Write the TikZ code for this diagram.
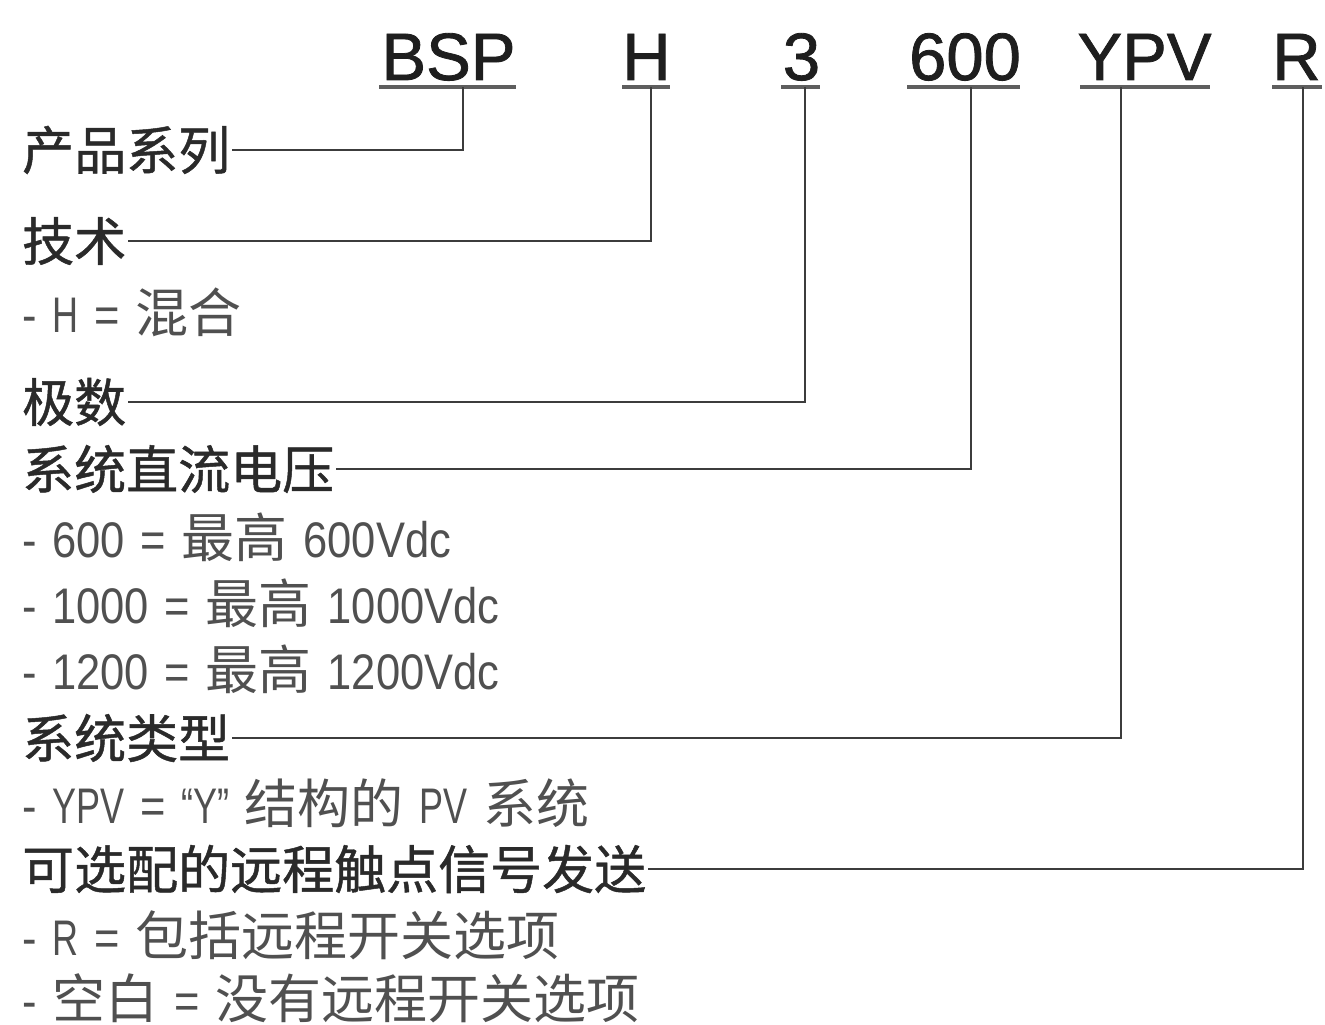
\documentclass[tikz,border=0pt]{standalone}
\usepackage{fontspec}
\setmainfont[FakeStretch=0.87,WordSpace=1.3]{Liberation Sans}
\newfontfamily\cj{Noto Sans CJK SC}
\newfontfamily\cjh[FakeBold=0.9]{Noto Sans CJK SC}
\newfontfamily\capn[FakeStretch=0.72,WordSpace=1.3]{Liberation Sans}
\newfontfamily\codefont[FakeBold=1.2]{Liberation Sans}
\newcommand\zh[1]{{\cj\fontsize{53}{60}\selectfont #1}}
\newcommand\cp[1]{{\capn #1}}
\definecolor{headc}{HTML}{2A2A2A}
\definecolor{codec}{HTML}{1E1E1E}
\definecolor{subc}{HTML}{505050}
\definecolor{linec}{HTML}{3C3C3C}
\definecolor{ulc}{HTML}{5E5E5E}
\tikzset{
  code/.style={inner sep=0pt, anchor=base, text=codec, font=\codefont\fontsize{67}{70}\selectfont},
  head/.style={inner xsep=2pt, inner ysep=0pt, anchor=west, text=headc, font=\cjh\fontsize{52}{60}\selectfont},
  sub/.style={inner sep=0pt, anchor=west, text=subc, font=\fontsize{50}{60}\selectfont},
  uline/.style={draw=ulc, line width=4pt},
  conn/.style={draw=linec, line width=2.6pt},
}
\begin{document}
\begin{tikzpicture}[x=1pt,y=-1pt]
\useasboundingbox[fill=white] (0,0) rectangle (1325,1025);
% codes
\node[code] (c1) at (448.5,80) {BSP};
\node[code] (c2) at (646.5,80) {H};
\node[code] (c3) at (801.5,80) {3};
\node[code] (c4) at (965,80) {600};
\node[code] (c5) at (1144.5,80) {YPV};
\node[code] (c6) at (1296.5,80) {R};
% underlines
\draw[uline] (379,87) -- (516,87);
\draw[uline] (622,87) -- (670,87);
\draw[uline] (781,87) -- (820,87);
\draw[uline] (907,87) -- (1020,87);
\draw[uline] (1080,87) -- (1210,87);
\draw[uline] (1272,87) -- (1322,87);
% stem tops
\coordinate (s1) at (463,87);
\coordinate (s2) at (651,87);
\coordinate (s3) at (805,87);
\coordinate (s4) at (971,87);
\coordinate (s5) at (1121,87);
\coordinate (s6) at (1303,87);
% labels
\node[head] (l1) at (20,150) {产品系列};
\node[head] (l2) at (20,241) {技术};
\node[sub]  (d2) at (22,312) {- \cp{H} = \zh{混合}};
\node[head] (l3) at (20,402) {极数};
\node[head] (l4) at (20,469) {系统直流电压};
\node[sub]  (d4a) at (22,537) {- 600 = \zh{最高} 600Vdc};
\node[sub]  (d4b) at (22,603) {- 1000 = \zh{最高} 1000Vdc};
\node[sub]  (d4c) at (22,669) {- 1200 = \zh{最高} 1200Vdc};
\node[head] (l5) at (20,738) {系统类型};
\node[sub]  (d5) at (22,803) {- \cp{YPV} = \cp{“Y”} \zh{结构的} \cp{PV} \zh{系统}};
\node[head] (l6) at (20,869) {可选配的远程触点信号发送};
\node[sub]  (d6a) at (22,935) {- \cp{R} = \zh{包括远程开关选项}};
\node[sub]  (d6b) at (22,998) {- \zh{空白} = \zh{没有远程开关选项}};
% connectors
\draw[conn] (s1) |- (l1.east);
\draw[conn] (s2) |- (l2.east);
\draw[conn] (s3) |- (l3.east);
\draw[conn] (s4) |- (l4.east);
\draw[conn] (s5) |- (l5.east);
\draw[conn] (s6) |- (l6.east);
\end{tikzpicture}
\end{document}
